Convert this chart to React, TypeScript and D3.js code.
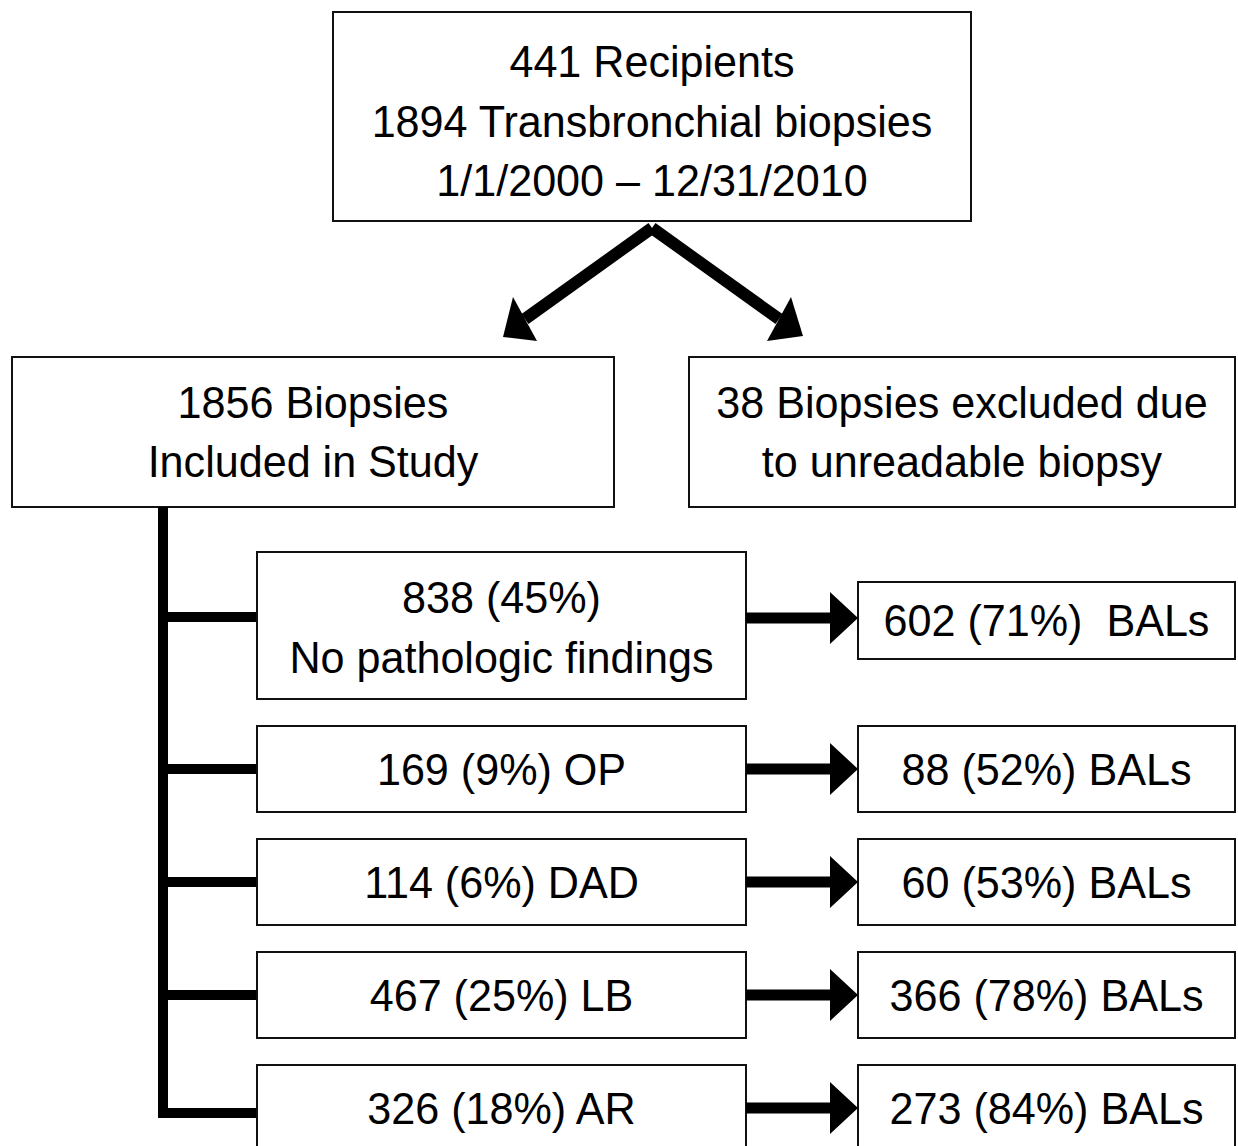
import React, { useEffect, useRef } from 'react';
import * as d3 from 'd3';

const topLines = ['441 Recipients', '1894 Transbronchial biopsies', '1/1/2000 \u2013 12/31/2010'];
const includedLines = ['1856 Biopsies', 'Included in Study'];
const excludedLines = ['38 Biopsies excluded due', 'to unreadable biopsy'];

const categories = ['No pathologic findings', 'OP', 'DAD', 'LB', 'AR'];
const biopsyCounts = [838, 169, 114, 467, 326];
const biopsyPct = [45, 9, 6, 25, 18];
const balCounts = [602, 88, 60, 366, 273];
const balPct = [71, 52, 53, 78, 84];

const W = 1238;
const H = 1146;
const FONT = '"Liberation Sans", Arial, sans-serif';
const FS = 44;

const App = () => {
  const svgRef = useRef<SVGSVGElement>(null);

  useEffect(() => {
    if (!svgRef.current) return;
    const svg = d3.select(svgRef.current);
    svg.selectAll('*').remove();

    const box = (x0: number, y0: number, x1: number, y1: number) =>
      svg.append('rect')
        .attr('x', x0).attr('y', y0)
        .attr('width', x1 - x0).attr('height', y1 - y0)
        .attr('fill', '#fff').attr('stroke', '#111').attr('stroke-width', 2);

    const lines = (cx: number, baselines: number[], texts: string[]) => {
      texts.forEach((t, i) => {
        svg.append('text')
          .attr('x', cx).attr('y', baselines[i])
          .attr('text-anchor', 'middle')
          .attr('font-family', FONT)
          .attr('font-size', FS)
          .attr('transform', `translate(${cx},0) scale(0.98,1) translate(${-cx},0)`)
          .style('white-space', 'pre')
          .attr('fill', '#000')
          .text(t);
      });
    };

    // top box
    box(333, 12, 971, 221);
    lines(652, [77, 137, 196], topLines);

    // diagonal arrows
    const apex: [number, number] = [652, 228];
    const heads = [
      { base: [525, 319], pts: [[503, 337], [513, 297], [537, 341]] },
      { base: [779, 319], pts: [[803, 336], [791, 297], [767, 341]] },
    ];
    heads.forEach(h => {
      svg.append('line')
        .attr('x1', apex[0]).attr('y1', apex[1])
        .attr('x2', h.base[0]).attr('y2', h.base[1])
        .attr('stroke', '#000').attr('stroke-width', 12);
      svg.append('path')
        .attr('d', d3.line()(h.pts as [number, number][]) + 'Z')
        .attr('fill', '#000');
    });

    // second level boxes
    box(12, 357, 614, 507);
    lines(313, [418, 477], includedLines);
    box(689, 357, 1235, 507);
    lines(962, [418, 477], excludedLines);

    // rows
    const heights = categories.map((_, i) => (i === 0 ? 147 : 86));
    const tops: number[] = [];
    heights.reduce((acc, h) => { tops.push(acc); return acc + h + 27; }, 552);
    const rowTop = d3.scaleOrdinal<string, number>().domain(categories).range(tops);

    const barX = 163;
    const leftX0 = 257, leftX1 = 746;
    const rightX0 = 858, rightX1 = 1235;

    const branchY = categories.map((c, i) => (i === 0 ? 617 : rowTop(c) + heights[i] / 2 + (i === categories.length - 1 ? 5 : 0)));
    const arrowY = categories.map((c, i) => (i === 0 ? 618 : rowTop(c) + heights[i] / 2));

    // vertical trunk
    svg.append('line')
      .attr('x1', barX).attr('x2', barX)
      .attr('y1', 507).attr('y2', branchY[branchY.length - 1] + 5)
      .attr('stroke', '#000').attr('stroke-width', 10);

    categories.forEach((c, i) => {
      const y0 = rowTop(c);
      const y1 = y0 + heights[i];
      svg.append('line')
        .attr('x1', barX - 5).attr('x2', leftX0)
        .attr('y1', branchY[i]).attr('y2', branchY[i])
        .attr('stroke', '#000').attr('stroke-width', 10);

      box(leftX0, y0, leftX1, y1);
      const cx = (leftX0 + leftX1) / 2;
      if (i === 0) {
        const mid = (y0 + y1) / 2;
        lines(cx, [mid - 12, mid + 48], [`${biopsyCounts[i]} (${biopsyPct[i]}%)`, c]);
      } else {
        lines(cx, [(y0 + y1) / 2 + 16], [`${biopsyCounts[i]} (${biopsyPct[i]}%) ${c}`]);
      }

      // right boxes
      const ry0 = i === 0 ? 582 : y0;
      const ry1 = i === 0 ? 659 : y1;
      box(rightX0, ry0, rightX1, ry1);
      const label = i === 0
        ? `${balCounts[i]} (${balPct[i]}%)  BALs`
        : `${balCounts[i]} (${balPct[i]}%) BALs`;
      lines((rightX0 + rightX1) / 2, [(ry0 + ry1) / 2 + 16], [label]);

      // arrow
      const ay = arrowY[i];
      svg.append('line')
        .attr('x1', leftX1).attr('x2', 832)
        .attr('y1', ay).attr('y2', ay)
        .attr('stroke', '#000').attr('stroke-width', 11);
      svg.append('path')
        .attr('d', d3.line()([[830, ay - 26], [rightX0, ay], [830, ay + 26]]) + 'Z')
        .attr('fill', '#000');
    });
  }, []);

  return (
    <svg
      ref={svgRef}
      width={W}
      height={H}
      viewBox={`0 0 ${W} ${H}`}
      style={{ position: 'absolute', left: 0, top: 0, background: '#fff', display: 'block' }}
    />
  );
};

export default App;
